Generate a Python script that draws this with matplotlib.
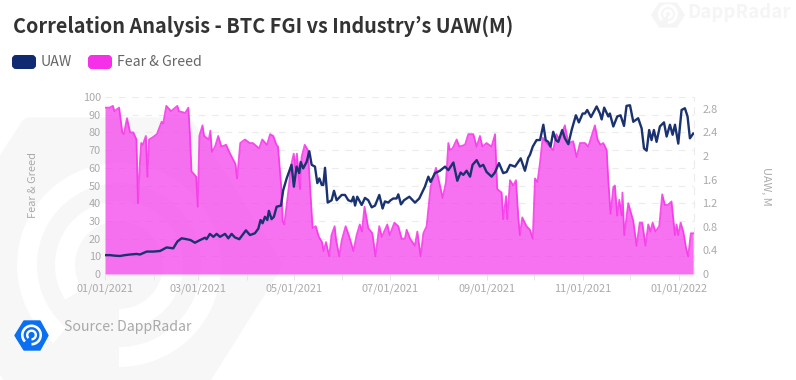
import numpy as np
import matplotlib
matplotlib.use("Agg")
import matplotlib.pyplot as plt
import matplotlib.dates as mdates
from matplotlib.patches import Polygon, Wedge, FancyBboxPatch

FONT = ["Noto Sans CJK KR", "DejaVu Sans"]
plt.rcParams["font.family"] = FONT

START = np.datetime64("2021-01-01")
END_DAY = 374.5

TITLE = "Correlation Analysis - BTC FGI vs Industry’s UAW(M)"
SOURCE = "Source: DappRadar"
SERIES_NAMES = ["UAW", "Fear & Greed"]
LEFT_TICKS = [0, 10, 20, 30, 40, 50, 60, 70, 80, 90, 100]
RIGHT_TICKS = [0, 0.4, 0.8, 1.2, 1.6, 2, 2.4, 2.8]

fg_days = [0,3,5,6,9,11,12,14,16,18,20,21,22,23,24,26,27,28,30,33,36,37,39,42,46,47,51,53,54,55,58,59,60,62,63,66,67,68,70,72,74,77,79,83,84,86,89,92,94,98,100,103,105,107,109,110,112,113,114,117,118,120,121,122,124,125,127,129,131,132,134,136,
           138,139,140.5,142.6,144,146,147,149,150.5,153,155,158,160,162,163.4,165,167.4,170,172,174.4,176,179.5,181,184,186.5,188.6,190.7,191.8,194,197,198.6,200.7,202.4,204.5,207,210.4,213,214.7,216.8,218.3,219.3,221,223.6,225.3,228.9,231,234.2,236.3,238.4,240,242.6,245.8,248,249.4,252.2,253.2,255,255.8,257.5,259.6,261.3,262.8,263.8,265.3,268,
           270.2,272,273.4,275,276.6,278.3,280.8,285,287,289,292.4,294.6,297.7,299.9,302,305.2,307.3,311.5,313.2,315,316.8,319,320,321.5,323.2,324.2,325.7,327,328.5,329,330.2,332.7,335.9,338,340,341.6,343.7,345.4,346.9,348.2,350,352.4,354.3,356,358,360.2,362.4,363.4,364.5,366,367.7,369.4,370.8,372.5,374]
fg_values = [94,94,95,92,94,80,79,88,80,80,76,40,60,74,73,78,55,76,77,79,86,85,95,92,95,92,91,94,79,58,55,38,78,84,78,76,81,69,72,78,72,73,69,62,54,74,76,74,74,71,76,73,79,78,73,72,50,30,28,50,60,68,60,68,48,66,73,70,40,26,27,21,
             18,13,18,10,22,27,19,10,19,27,22,13,22,28,24,38,26,23,10,27,21,28,22,29,27,20,20,25,20,16,24,10,23,27,49,60,50,43,52,74,70,71,76,72,73,79,79,72,78,72,74,72,79,48,46,31,44,31,53,50,53,32,22,32,27,
             25,20,54,52,63,77,74,70,79,76,84,74,75,66,74,74,72,84,76,73,74,70,53,34,49,50,33,42,33,46,22,40,30,16,29,29,16,28,24,29,24,27,45,39,39,41,22,28,22,29,24,15,10,23,23]

uaw_days = [0,3.2,6.4,9.5,12.7,15.9,20.1,22.2,26.5,30.7,35,39.2,43.4,46,48.7,51.9,54.4,57.2,60.4,63.6,64.6,66.7,68.9,71,73.1,76.3,78.4,80.5,82.6,85.4,89.6,92.2,95.3,97.5,98.9,100.2,101.7,103.2,104.2,105.9,107.4,109.1,111.9,113.3,115.5,118.6,120.1,121.8,123.5,124.4,126,128.2,129.9,131.4,133.5,135,
            136.3,137.8,138.8,139.9,141.6,144.1,145.6,147.3,150.5,152.6,154.7,156.8,157.9,159,160.4,163.2,165.3,167.4,169.6,171.7,174.4,176.5,178,180.1,181.6,183.3,185.4,186.5,188.2,190.1,193.5,197.1,199.8,203.4,205.6,207,209.8,213,216.2,218.3,221.5,224,226.1,227.8,229.9,232.1,233.7,236.3,238.4,240.5,242.6,245.8,247.9,250.5,253.2,255.4,257.5,260.7,264.3,267,269.1,
            270.2,272,274.4,276.6,278.7,280.2,281.8,283.3,285,286.7,288.2,290.7,292.4,294.6,296.7,299.4,301.3,303.7,305.2,306.6,309,312.6,314.7,315.8,317.4,320,321,323.2,325.7,327.8,330,331.6,333.8,335.9,339,341.2,342.7,344.4,346,347.5,349,350.7,352.8,355.4,357.1,359.2,360.9,362.4,364.5,366.6,368.7,370.4,371.9,374]
uaw_values = [.32,.32,.31,.305,.32,.33,.34,.33,.38,.38,.39,.45,.435,.55,.605,.59,.575,.53,.575,.615,.59,.68,.63,.68,.63,.68,.605,.68,.62,.59,.74,.66,.69,.77,.915,.86,.97,.915,1.07,.93,.97,1.14,1.16,1.42,1.62,1.85,1.48,1.82,1.71,1.90,1.79,1.90,2.08,1.85,1.82,1.54,
              1.62,1.51,1.51,1.80,1.21,1.25,1.41,1.25,1.34,1.34,1.25,1.23,1.31,1.16,1.31,1.17,1.29,1.25,1.13,1.16,1.34,1.11,1.23,1.21,1.25,1.28,1.28,1.35,1.18,1.25,1.31,1.21,1.28,1.48,1.65,1.56,1.71,1.75,1.82,1.76,1.89,1.58,1.72,1.68,1.75,1.65,1.85,1.93,1.82,1.85,1.73,1.65,1.72,1.88,1.71,1.73,1.85,1.82,1.96,1.75,1.97,
              2.02,2.16,2.27,2.27,2.53,2.27,2.24,2.16,2.41,2.27,2.24,2.44,2.30,2.20,2.44,2.69,2.57,2.72,2.72,2.78,2.66,2.84,2.72,2.62,2.82,2.67,2.72,2.50,2.67,2.69,2.51,2.85,2.86,2.58,2.64,2.47,2.13,2.09,2.44,2.27,2.44,2.24,2.50,2.57,2.33,2.53,2.36,2.53,2.21,2.78,2.81,2.67,2.30,2.38]

W, H = 796, 380
fig = plt.figure(figsize=(W / 100, H / 100), dpi=100, facecolor="white")

# background layer in pixel units, y measured from the top
bg = fig.add_axes([0, 0, 1, 1], zorder=0)
bg.set_xlim(0, W)
bg.set_ylim(H, 0)
bg.axis("off")
WM = "#f7f7f8"
bg.add_patch(Polygon([(30, 127), (185, 127), (272, 265), (185, 403), (30, 403), (-60, 265)],
                     closed=True, fc=WM, ec=WM, lw=14, joinstyle="round"))
# y axis is inverted here, so angles run clockwise on screen
for r, a in ((102, 130), (64, 147)):
    bg.add_patch(Wedge((119, 265), r, a, 90, width=20, fc="white", ec="none"))
bg.add_patch(Polygon([(668 - 9, 2.5), (668 + 9, 2.5), (668 + 17, 15), (668 + 9, 27.5), (668 - 9, 27.5), (668 - 17, 15)],
                     closed=True, fc="#f5f5f5", ec="none"))
for r, wd in ((10, 3), (5, 3)):
    bg.add_patch(Wedge((668, 14), r, 135, 90, width=wd, fc="white", ec="none"))
bg.text(687, 12, "DappRadar", fontsize=13.4, fontweight="bold", color="#f5f5f5", va="center", ha="left", family=FONT)

# DappRadar logo
bg.add_patch(Polygon([(15, 335.5), (24, 321), (40, 321), (48, 335.5), (40, 350), (24, 350)],
                     closed=True, fc="#0a6ff0", ec="#0a6ff0", lw=1, joinstyle="round"))
for r, wd in ((10.5, 2.6), (5.5, 2.4)):
    bg.add_patch(Wedge((31.5, 335), r, 135, 90, width=wd, fc="white", ec="none"))

# title, legend, source
bg.text(13, 26, TITLE, fontsize=14.28, fontweight="bold", color="#333333", va="center", ha="left", family=FONT)
for (x0, col, tx), name in zip([(12, "#0f2a70", 41), (88, "#f62fe8", 117)], SERIES_NAMES):
    bg.add_patch(FancyBboxPatch((x0 + 2, 57), 20, 10, boxstyle="round,pad=0,rounding_size=2", mutation_aspect=1,
                                fc=col, ec=col, lw=4 * 0.72))
    bg.text(tx, 62.5, name, fontsize=10.2, color="#666666", va="center", ha="left", family=FONT)
bg.text(63.5, 327, SOURCE, fontsize=10.2, color="#a9a9a9", va="center", ha="left", family=FONT)
bg.text(33, 185, "Fear & Greed", fontsize=7.9, color="#aaaaaa", rotation=90, va="center", ha="center", family=FONT)
bg.text(766, 186, "UAW, M", fontsize=7.9, color="#aaaaaa", rotation=270, va="center", ha="center", family=FONT)

# chart
L, R, T, B = 105, 694, 97, 274
ax = fig.add_axes([L / W, 1 - B / H, (R - L) / W, (B - T) / H], zorder=1)
ax.patch.set_alpha(0)
to_dates = lambda days: START + (np.array(days) * 24 * 3600).astype("timedelta64[s]")
fg_t = to_dates(fg_days)
ax.fill_between(fg_t, fg_values, 0, color="#f53ceb", alpha=0.72, lw=0, zorder=2)
ax.plot(fg_t, fg_values, color="#f533e8", lw=1.3, alpha=0.85, zorder=3)
ax.set_ylim(0, 100)
ax.set_yticks(LEFT_TICKS)
ax.set_xlim(to_dates([0])[0], to_dates([END_DAY])[0])
ax.xaxis.set_major_locator(mdates.MonthLocator(bymonth=[1, 3, 5, 7, 9, 11]))
ax.xaxis.set_major_formatter(mdates.DateFormatter("%m/%d/%Y"))
ax.xaxis.set_minor_locator(mdates.MonthLocator())
ax.grid(axis="y", color="#ececec", lw=0.8, ls=(0, (6, 6)), zorder=1)
ax.set_axisbelow(True)
for s in ("top", "left", "bottom"):
    ax.spines[s].set_visible(False)
ax.spines["right"].set_color("#ececec")
ax.spines["right"].set_linewidth(0.8)
ax.spines["right"].set_linestyle((0, (6, 6)))
ax.tick_params(axis="y", length=0, labelsize=7.9, labelcolor="#aaaaaa", pad=3)
ax.tick_params(axis="x", which="both", length=4, width=0.7, color="#e6e6e6", labelsize=7.9, labelcolor="#aaaaaa", pad=3)

ax2 = ax.twinx()
ax2.patch.set_alpha(0)
ax2.plot(to_dates(uaw_days), uaw_values, color="#1a3270", lw=1.7, solid_joinstyle="round", zorder=4)
ax2.set_ylim(0, 3)
ax2.set_yticks(RIGHT_TICKS)
ax2.set_yticklabels([str(v) for v in RIGHT_TICKS])
for s in ax2.spines.values():
    s.set_visible(False)
ax2.tick_params(axis="y", length=0, labelsize=7.9, labelcolor="#aaaaaa", pad=6)

fig.savefig("out.png", dpi=100, facecolor="white")
